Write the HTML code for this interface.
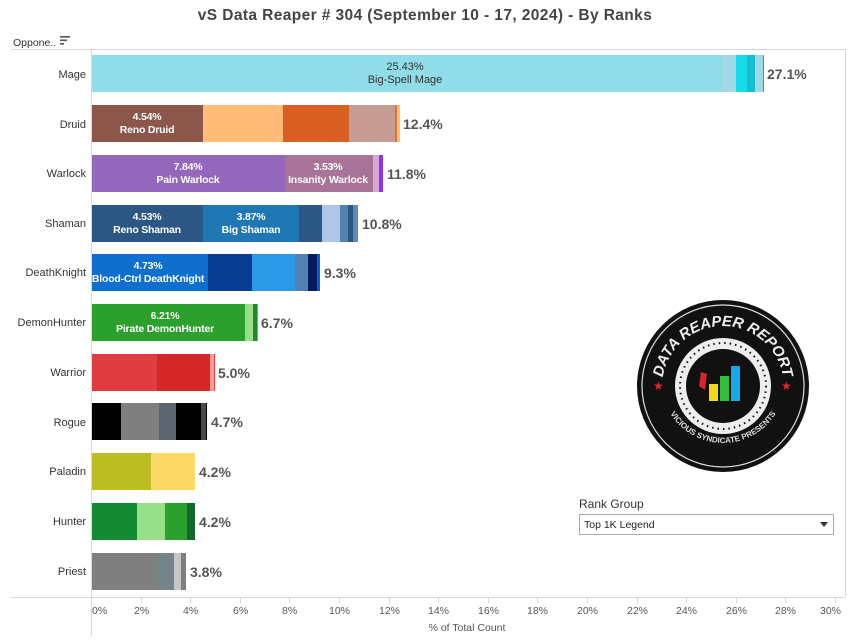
<!DOCTYPE html>
<html><head><meta charset="utf-8"><style>
body{margin:0;background:#fff;width:853px;height:643px;overflow:hidden}
svg{display:block;font-family:"Liberation Sans",Arial,sans-serif}
.rl{font-size:11px;fill:#333;text-anchor:end}
.tot{font-size:14px;font-weight:bold;fill:#555}
.in{font-size:11px;fill:#fff;text-anchor:middle}
.inb{font-size:10.5px;fill:#fff;text-anchor:middle;font-weight:bold;letter-spacing:-0.2px}
.tk{font-size:10.5px;fill:#555}
</style></head><body>
<svg width="853" height="643" viewBox="0 0 853 643">
<text x="425" y="20" text-anchor="middle" font-size="15.5" font-weight="bold" fill="#444" letter-spacing="0.4">vS Data Reaper #  304 (September 10 - 17, 2024) - By Ranks</text>
<text x="13" y="46" font-size="10.5" fill="#333">Oppone..</text>
<g fill="#555"><rect x="60" y="36" width="10" height="1.6"/><rect x="60" y="39.5" width="7" height="1.6"/><rect x="60" y="43" width="4" height="1.6"/></g>
<line x1="11" y1="49.5" x2="845" y2="49.5" stroke="#d8d8d8"/>
<line x1="845.5" y1="49" x2="845.5" y2="597" stroke="#d8d8d8"/>
<line x1="11" y1="597.5" x2="845" y2="597.5" stroke="#d8d8d8"/>
<line x1="91.5" y1="49" x2="91.5" y2="636" stroke="#d8d8d8"/>
<g transform="translate(0,55)">
<rect x="92" width="630" height="37" fill="#90dce9"/><rect x="722" width="14" height="37" fill="#a3d9e6"/><rect x="736" width="11" height="37" fill="#17dbea"/><rect x="747" width="8" height="37" fill="#17becf"/><rect x="755" width="8" height="37" fill="#9edae5"/><rect x="763" width="1" height="37" fill="#17a2b8"/>
<text class="in" x="405" y="15" style="fill:#333">25.43%</text><text class="in" x="405" y="28" style="fill:#333">Big-Spell Mage</text>
<text class="tot" x="767" y="24">27.1%</text></g>
<text class="rl" x="86" y="78">Mage</text>
<g transform="translate(0,105)">
<rect x="92" width="111" height="37" fill="#8c564b"/><rect x="203" width="80" height="37" fill="#ffbb78"/><rect x="283" width="66" height="37" fill="#d95f22"/><rect x="349" width="46" height="37" fill="#c49c94"/><rect x="395" width="2" height="37" fill="#e0702a"/><rect x="397" width="3" height="37" fill="#ffbb78"/>
<text class="inb" x="147" y="15">4.54%</text><text class="inb" x="147" y="28">Reno Druid</text>
<text class="tot" x="403" y="24">12.4%</text></g>
<text class="rl" x="86" y="128">Druid</text>
<g transform="translate(0,155)">
<rect x="92" width="193" height="37" fill="#9467bd"/><rect x="285" width="88" height="37" fill="#a87398"/><rect x="373" width="6" height="37" fill="#d6a8d0"/><rect x="379" width="4" height="37" fill="#8b34f0"/>
<text class="inb" x="188" y="15">7.84%</text><text class="inb" x="188" y="28">Pain Warlock</text>
<text class="inb" x="328" y="15">3.53%</text><text class="inb" x="328" y="28">Insanity Warlock</text>
<text class="tot" x="387" y="24">11.8%</text></g>
<text class="rl" x="86" y="177">Warlock</text>
<g transform="translate(0,205)">
<rect x="92" width="111" height="37" fill="#2c5784"/><rect x="203" width="96" height="37" fill="#1f77b4"/><rect x="299" width="23" height="37" fill="#2c5784"/><rect x="322" width="18" height="37" fill="#aec7e8"/><rect x="340" width="8" height="37" fill="#5183b3"/><rect x="348" width="5" height="37" fill="#2c5784"/><rect x="353" width="5" height="37" fill="#5a8bc0"/>
<text class="inb" x="147" y="15">4.53%</text><text class="inb" x="147" y="28">Reno Shaman</text>
<text class="inb" x="251" y="15">3.87%</text><text class="inb" x="251" y="28">Big Shaman</text>
<text class="tot" x="362" y="24">10.8%</text></g>
<text class="rl" x="86" y="227">Shaman</text>
<g transform="translate(0,254)">
<rect x="92" width="116" height="37" fill="#0f6fcf"/><rect x="208" width="44" height="37" fill="#093d91"/><rect x="252" width="43" height="37" fill="#2d9ae8"/><rect x="295" width="13" height="37" fill="#5181b1"/><rect x="308" width="9" height="37" fill="#051a5c"/><rect x="317" width="3" height="37" fill="#0a5bd0"/>
<text class="inb" x="148" y="15">4.73%</text><text class="inb" x="148" y="28">Blood-Ctrl DeathKnight</text>
<text class="tot" x="324" y="24">9.3%</text></g>
<text class="rl" x="86" y="276">DeathKnight</text>
<g transform="translate(0,304)">
<rect x="92" width="153" height="37" fill="#2ca02c"/><rect x="245" width="8" height="37" fill="#98df8a"/><rect x="253" width="4" height="37" fill="#1e8a2a"/><rect x="257" width="1" height="37" fill="#5fbf5f"/>
<text class="inb" x="165" y="15">6.21%</text><text class="inb" x="165" y="28">Pirate DemonHunter</text>
<text class="tot" x="261" y="24">6.7%</text></g>
<text class="rl" x="86" y="326">DemonHunter</text>
<g transform="translate(0,354)">
<rect x="92" width="65" height="37" fill="#e03c42"/><rect x="157" width="53" height="37" fill="#d62728"/><rect x="210" width="4" height="37" fill="#ff9896"/><rect x="214" width="1" height="37" fill="#e8403a"/>
<text class="tot" x="218" y="24">5.0%</text></g>
<text class="rl" x="86" y="376">Warrior</text>
<g transform="translate(0,403)">
<rect x="92" width="29" height="37" fill="#000"/><rect x="121" width="38" height="37" fill="#7f7f7f"/><rect x="159" width="17" height="37" fill="#5b6570"/><rect x="176" width="25" height="37" fill="#000"/><rect x="201" width="5" height="37" fill="#4a4a4a"/><rect x="206" width="1" height="37" fill="#000"/>
<text class="tot" x="211" y="24">4.7%</text></g>
<text class="rl" x="86" y="426">Rogue</text>
<g transform="translate(0,453)">
<rect x="92" width="59" height="37" fill="#bcbd22"/><rect x="151" width="44" height="37" fill="#ffd966"/>
<text class="tot" x="199" y="24">4.2%</text></g>
<text class="rl" x="86" y="475">Paladin</text>
<g transform="translate(0,503)">
<rect x="92" width="45" height="37" fill="#148a32"/><rect x="137" width="28" height="37" fill="#98df8a"/><rect x="165" width="22" height="37" fill="#2ca02c"/><rect x="187" width="8" height="37" fill="#10692a"/>
<text class="tot" x="199" y="24">4.2%</text></g>
<text class="rl" x="86" y="525">Hunter</text>
<g transform="translate(0,553)">
<rect x="92" width="66" height="37" fill="#7f7f7f"/><rect x="158" width="16" height="37" fill="#75838b"/><rect x="174" width="7" height="37" fill="#c7c7c7"/><rect x="181" width="5" height="37" fill="#7f7f7f"/>
<text class="tot" x="190" y="24">3.8%</text></g>
<text class="rl" x="86" y="575">Priest</text>
<g stroke="#d8d8d8">
<line x1="91.5" y1="597" x2="91.5" y2="603"/><line x1="141.5" y1="597" x2="141.5" y2="603"/><line x1="190.5" y1="597" x2="190.5" y2="603"/><line x1="240.5" y1="597" x2="240.5" y2="603"/><line x1="289.5" y1="597" x2="289.5" y2="603"/><line x1="339.5" y1="597" x2="339.5" y2="603"/><line x1="389.5" y1="597" x2="389.5" y2="603"/><line x1="438.5" y1="597" x2="438.5" y2="603"/><line x1="488.5" y1="597" x2="488.5" y2="603"/><line x1="537.5" y1="597" x2="537.5" y2="603"/><line x1="587.5" y1="597" x2="587.5" y2="603"/><line x1="637.5" y1="597" x2="637.5" y2="603"/><line x1="686.5" y1="597" x2="686.5" y2="603"/><line x1="736.5" y1="597" x2="736.5" y2="603"/><line x1="785.5" y1="597" x2="785.5" y2="603"/><line x1="835.5" y1="597" x2="835.5" y2="603"/>
</g>
<g class="tk">
<text x="92" y="614">0%</text><text x="134" y="614">2%</text><text x="183" y="614">4%</text><text x="233" y="614">6%</text><text x="282" y="614">8%</text><text x="329" y="614">10%</text><text x="379" y="614">12%</text><text x="428" y="614">14%</text><text x="478" y="614">16%</text><text x="527" y="614">18%</text><text x="577" y="614">20%</text><text x="627" y="614">22%</text><text x="676" y="614">24%</text><text x="726" y="614">26%</text><text x="775" y="614">28%</text><text x="820" y="614">30%</text>
</g>
<text x="467" y="631" text-anchor="middle" font-size="10.5" fill="#555">% of Total Count</text>
<g transform="translate(723,386)">
<circle r="86" fill="#111"/>
<circle r="81" fill="none" stroke="#ddd" stroke-width="1.2"/>
<circle r="48" fill="#eee"/>
<circle r="43" fill="none" stroke="#111" stroke-width="2" stroke-dasharray="1.5 4"/>
<circle r="37" fill="#111"/>
<path id="arc" d="M -60 12 A 61 61 0 1 1 60 12" fill="none"/>
<text font-size="15" font-weight="bold" fill="#eee" font-style="italic"><textPath href="#arc" startOffset="50%" text-anchor="middle">DATA REAPER REPORT</textPath></text>
<path id="arc2" d="M -62 -5 A 62 62 0 0 0 62 -5" fill="none"/>
<text font-size="8" font-weight="bold" fill="#ddd"><textPath href="#arc2" startOffset="50%" text-anchor="middle">VICIOUS SYNDICATE PRESENTS</textPath></text>
<text x="-70" y="4" font-size="12" fill="#e0282e">★</text><text x="58" y="4" font-size="12" fill="#e0282e">★</text>
<rect x="-14" y="-2" width="9" height="17" fill="#f4d71c"/><rect x="-3" y="-10" width="9" height="25" fill="#2fbf3b"/><rect x="8" y="-20" width="9" height="35" fill="#14a8e8"/>
<path d="M-22 -14 L-16 -12 L-18 4 L-24 0 Z" fill="#d62728"/>
</g>
<text x="579" y="508" font-size="12" fill="#333">Rank Group</text>
<rect x="579.5" y="514.5" width="254" height="20" fill="#fff" stroke="#aaa"/>
<text x="584" y="528" font-size="10.5" fill="#222">Top 1K Legend</text>
<path d="M820 522 L828 522 L824 527 Z" fill="#333"/>
</svg>
</body></html>
